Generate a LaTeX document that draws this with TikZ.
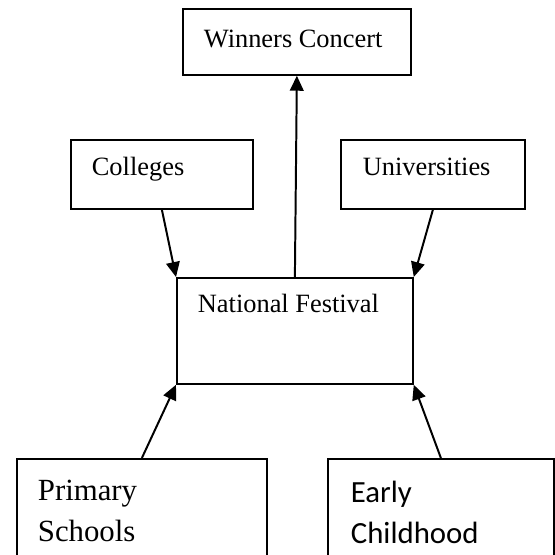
\documentclass[tikz,border=0pt]{standalone}
\usepackage{fontspec}
\setmainfont{Liberation Serif}
\newfontfamily\calibrifont{Carlito}
\usetikzlibrary{arrows.meta}
\newlength\px
\setlength\px{0.4545pt}
% box text: width, height, left pad, baseline offset, text
\newcommand\boxtext[5]{%
  \parbox[c][#2\px][t]{#1\px}{\raggedright\leftskip=#3\px
    \rule{0pt}{#4\px}#5}}

\begin{document}
\begin{tikzpicture}[x=1\px,y=-1\px,
  box/.style={draw,line width=0.8pt,inner sep=0pt,anchor=north west},
  feed/.style={line width=0.9pt,-{Triangle[length=6.8pt,width=6.2pt]}}]
\clip (0,0) rectangle (555,554);
% Top
\node[box] (winners) at (182,8)
  {\fontsize{12}{14}\selectfont\boxtext{228}{66}{21}{39}{Winners Concert}};
% Middle row
\node[box] (colleges) at (70,139)
  {\fontsize{12}{14}\selectfont\boxtext{182}{69}{21}{36}{Colleges}};
\node[box] (universities) at (340,139)
  {\fontsize{12}{14}\selectfont\boxtext{184}{69}{22}{36}{Universities}};
\node[box] (national) at (176,277)
  {\fontsize{12}{14}\selectfont\boxtext{236}{106}{21}{35}{National Festival}};
% Bottom row (cut by the page edge)
\node[box] (primary) at (16,458)
  {\fontsize{14}{18.4}\selectfont\boxtext{250}{140}{21}{42}{Primary\\Schools}};
\node[box] (early) at (327,458)
  {\calibrifont\fontsize{14}{18.4}\selectfont\boxtext{226}{140}{23}{44}{Early\\Childhood}};
% Arrows
\draw[feed] (national.north) -- (winners.south);
\draw[feed] (colleges.south) -- (national.north west);
\draw[feed] (universities.south) -- (national.north east);
\draw[feed] (primary.north) -- (national.south west);
\draw[feed] (early.north) -- (national.south east);
\end{tikzpicture}
\end{document}
